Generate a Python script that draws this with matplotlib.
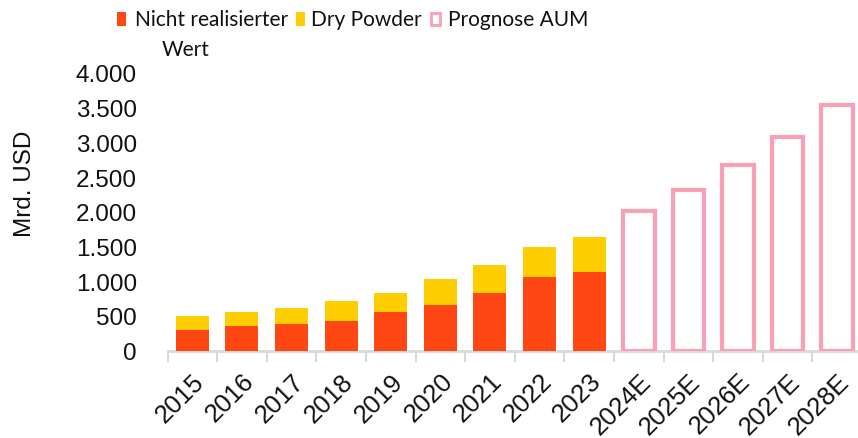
import matplotlib
matplotlib.use("Agg")
import matplotlib.pyplot as plt
from matplotlib.patches import Rectangle

years_hist = ["2015", "2016", "2017", "2018", "2019", "2020", "2021", "2022", "2023"]
unrealized = [295, 353, 382, 425, 555, 656, 829, 1059, 1131]
dry_powder = [202, 202, 230, 288, 274, 374, 403, 432, 504]
years_fc = ["2024E", "2025E", "2026E", "2027E", "2028E"]
forecast_aum = [2014, 2317, 2669, 3072, 3542]
yticks = [0, 500, 1000, 1500, 2000, 2500, 3000, 3500, 4000]
ytick_labels = ["0", "500", "1.000", "1.500", "2.000", "2.500", "3.000", "3.500", "4.000"]

RED = "#FF4713"
YELLOW = "#FFCE00"
PINK = "#F9A0B6"
GRID = "#D9D9D9"

plt.rcParams["font.family"] = ["Liberation Sans", "DejaVu Sans"]
legfont = ["Lato", "DejaVu Sans"]

W, H = 858, 439
fig = plt.figure(figsize=(W / 100, H / 100), dpi=100)
ax = fig.add_axes([167.5 / W, 1 - 351.5 / H, (862 - 167.5) / W, (351.5 - 74) / H])

cats = years_hist + years_fc
xh = list(range(len(years_hist)))
xf = list(range(len(years_hist), len(cats)))
ax.bar(xh, unrealized, width=0.665, color=RED, linewidth=0, zorder=3)
ax.bar(xh, dry_powder, bottom=unrealized, width=0.665, color=YELLOW, linewidth=0, zorder=3)
ax.bar(xf, forecast_aum, width=0.635, facecolor="white", edgecolor=PINK, linewidth=3, zorder=3)

ax.set_xlim(-0.5, 13.47)
ax.set_ylim(0, 4000)
ax.set_yticks(yticks)
ax.set_yticklabels(ytick_labels, fontsize=17.5, color="#111111")
ax.tick_params(axis="y", length=0, pad=22)

ax.set_xticks(range(len(cats)))
ax.set_xticklabels(cats, rotation=45, ha="right", rotation_mode="anchor", fontsize=18.5, color="#111111")
ax.tick_params(axis="x", length=0, pad=13)
ax.set_xticks([i - 0.5 for i in range(len(cats) + 1)], minor=True)
ax.tick_params(axis="x", which="minor", length=8, width=1.5, color=GRID)

for s in ["top", "right", "left"]:
    ax.spines[s].set_visible(False)
ax.spines["bottom"].set_color(GRID)
ax.spines["bottom"].set_linewidth(2)

fig.text(25 / W, 1 - 184 / H, "Mrd. USD", rotation=90, ha="center", va="center", fontsize=17.5, color="#111111")

# legend
fs = 15
fig.patches.append(Rectangle((116.7 / W, 1 - 26.7 / H), 9.3 / W, 13.4 / H, transform=fig.transFigure,
                             facecolor=RED, edgecolor="none"))
fig.text(135 / W, 1 - 20 / H, "Nicht realisierter", ha="left", va="center", fontsize=fs, family=legfont, color="#111111")
fig.text(162 / W, 1 - 50 / H, "Wert", ha="left", va="center", fontsize=fs, family=legfont, color="#111111")
fig.patches.append(Rectangle((295.7 / W, 1 - 26.7 / H), 9.3 / W, 13.4 / H, transform=fig.transFigure,
                             facecolor=YELLOW, edgecolor="none"))
fig.text(311 / W, 1 - 20 / H, "Dry Powder", ha="left", va="center", fontsize=fs, family=legfont, color="#111111")
fig.patches.append(Rectangle((431 / W, 1 - 26.3 / H), 9 / W, 12.6 / H, transform=fig.transFigure,
                             facecolor="white", edgecolor=PINK, linewidth=2))
fig.text(448 / W, 1 - 20 / H, "Prognose AUM", ha="left", va="center", fontsize=fs, family=legfont, color="#111111")

fig.savefig("out.png", dpi=100)
